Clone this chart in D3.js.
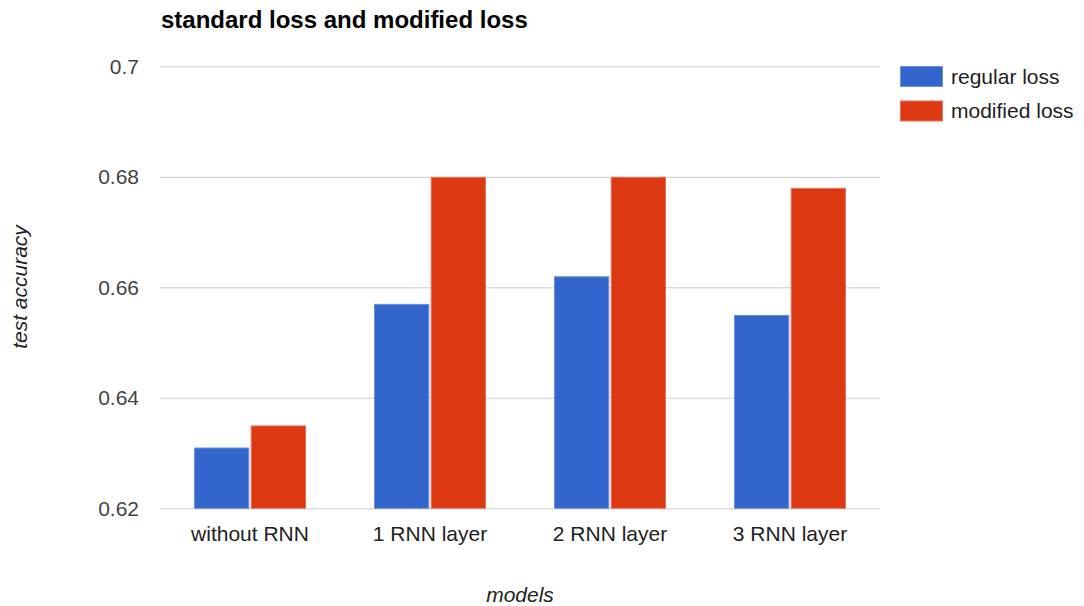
<!DOCTYPE html>
<html>
<head>
<meta charset="utf-8">
<script src="https://cdn.jsdelivr.net/npm/d3@7"></script>
<style>
  html, body { margin: 0; padding: 0; background: #fff; }
  svg { display: block; font-family: "Liberation Sans", Arial, sans-serif; }
</style>
</head>
<body>
<svg id="chart" width="1084" height="606"></svg>
<script>
// Test accuracy per model, with and without the modified loss
const categories = ["without RNN", "1 RNN layer", "2 RNN layer", "3 RNN layer"];
const seriesNames = ["regular loss", "modified loss"];
const regularLoss = [0.631, 0.657, 0.662, 0.655];
const modifiedLoss = [0.635, 0.68, 0.68, 0.678];
const yTicks = [0.62, 0.64, 0.66, 0.68, 0.7];
const colors = ["#3366cc", "#dc3912"];
const edgeColors = ["#6a8fdc", "#e8735c"];

const FONT = "\"Liberation Sans\", Arial, sans-serif";
const svg = d3.select("#chart");
const plot = { left: 160, right: 880, top: 66.3, bottom: 508.3 };

const x0 = d3.scaleBand()
  .domain(categories)
  .range([plot.left, plot.right])
  .paddingInner(0.378)
  .paddingOuter(0.189);

const x1 = d3.scaleBand()
  .domain(seriesNames)
  .range([0, x0.bandwidth()])
  .paddingInner(0.025);

const y = d3.scaleLinear()
  .domain([0.62, 0.7])
  .range([plot.bottom, plot.top]);

// Horizontal gridlines with tick labels
const yAxis = d3.axisLeft(y)
  .tickValues(yTicks)
  .tickSize(-(plot.right - plot.left))
  .tickPadding(21)
  .tickFormat(d => d3.format("")(+d.toFixed(2)));

const gy = svg.append("g")
  .attr("transform", `translate(${plot.left},0)`)
  .call(yAxis);
gy.select(".domain").remove();
gy.selectAll(".tick line").attr("stroke", "#cccccc").attr("stroke-width", 1);
gy.selectAll(".tick text")
  .attr("fill", "#444")
  .style("font-size", "21px")
  .style("font-family", FONT);

// Grouped bars
const rows = categories.map((c, i) => ({ cat: c, values: [regularLoss[i], modifiedLoss[i]] }));
const groups = svg.append("g").selectAll("g")
  .data(rows)
  .join("g")
  .attr("transform", d => `translate(${x0(d.cat)},0)`);

groups.selectAll("rect")
  .data(d => d.values.map((v, k) => ({ key: seriesNames[k], k, v })))
  .join("rect")
  .attr("x", d => x1(d.key) + 0.5)
  .attr("y", d => y(d.v) + 0.5)
  .attr("width", d => x1.bandwidth() - 1)
  .attr("height", d => y(0.62) - y(d.v) - 0.5)
  .attr("fill", d => colors[d.k])
  .attr("stroke", d => edgeColors[d.k])
  .attr("stroke-width", 1);

// Category labels
const xAxis = d3.axisBottom(x0).tickSize(0).tickPadding(0);
const gx = svg.append("g")
  .attr("transform", `translate(0,${plot.bottom})`)
  .call(xAxis);
gx.select(".domain").remove();
gx.selectAll(".tick text")
  .attr("dy", null)
  .attr("y", 32.5)
  .attr("fill", "#222")
  .style("font-size", "21px")
  .style("font-family", FONT);

// Title
svg.append("text")
  .attr("x", 161)
  .attr("y", 28)
  .attr("fill", "#000")
  .style("font-size", "24px")
  .style("font-weight", "bold")
  .text("standard loss and modified loss");

// Axis titles
svg.append("text")
  .attr("x", (plot.left + plot.right) / 2)
  .attr("y", 602)
  .attr("text-anchor", "middle")
  .attr("fill", "#222")
  .style("font-size", "21px")
  .style("font-style", "italic")
  .text("models");

svg.append("text")
  .attr("transform", `translate(27,287) rotate(-90)`)
  .attr("text-anchor", "middle")
  .attr("fill", "#222")
  .style("font-size", "21px")
  .style("font-style", "italic")
  .text("test accuracy");

// Legend
const legend = svg.append("g").selectAll("g")
  .data(seriesNames)
  .join("g")
  .attr("transform", (d, i) => `translate(900,${66 + i * 34.5})`);
legend.append("rect")
  .attr("x", 0.5).attr("y", 0.5)
  .attr("width", 42).attr("height", 20)
  .attr("fill", (d, i) => colors[i])
  .attr("stroke", (d, i) => edgeColors[i]);
legend.append("text")
  .attr("x", 51)
  .attr("y", 17.5)
  .attr("fill", "#222")
  .style("font-size", "21px")
  .text(d => d);
</script>
</body>
</html>
